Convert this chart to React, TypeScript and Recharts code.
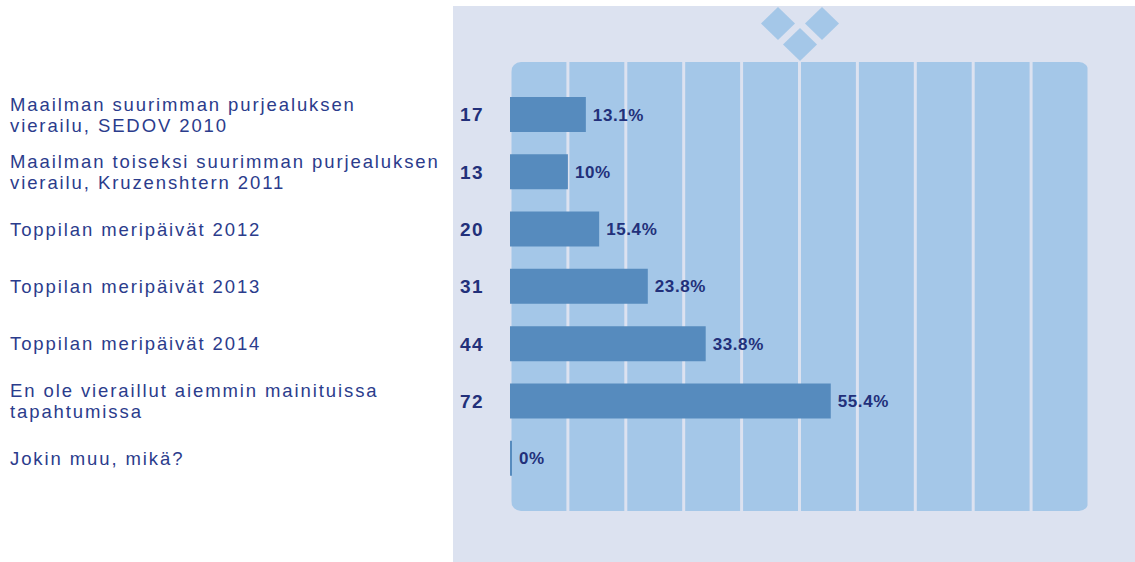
import React from 'react';
import { BarChart, Bar, XAxis, YAxis, CartesianGrid, LabelList } from 'recharts';

const categories: string[] = [
  'Maailman suurimman purjealuksen\nvierailu, SEDOV 2010',
  'Maailman toiseksi suurimman purjealuksen\nvierailu, Kruzenshtern 2011',
  'Toppilan meripäivät 2012',
  'Toppilan meripäivät 2013',
  'Toppilan meripäivät 2014',
  'En ole vieraillut aiemmin mainituissa\ntapahtumissa',
  'Jokin muu, mikä?',
];
const counts: number[] = [17, 13, 20, 31, 44, 72, 0];
const percents: number[] = [13.1, 10, 15.4, 23.8, 33.8, 55.4, 0];
const xTicks: number[] = [0, 10, 20, 30, 40, 50, 60, 70, 80, 90, 100];

const data = categories.map((name, i) => ({ name, count: counts[i], pct: percents[i] }));

const W = 1135;
const H = 562;
const PLOT = { left: 510, top: 62, right: 1089, bottom: 511 };
const PANEL_BG = '#dce2f0';
const COL_BG = '#a4c7e8';
const BAR = '#568bbe';
const TEXT = '#2b3c8c';
const NAVY = '#22307a';
const FONT = '"Liberation Sans", Arial, sans-serif';

const countByName: Record<string, number> = {};
data.forEach((d) => (countByName[d.name] = d.count));

const CategoryTick = (props: any) => {
  const { y, payload } = props;
  const lines: string[] = String(payload.value).split('\n');
  const lh = 21;
  const startY = y - ((lines.length - 1) * lh) / 2;
  return (
    <g>
      <text x={10} y={startY} fill={TEXT} fontSize={18.5} letterSpacing={1.9} fontFamily={FONT}>
        {lines.map((l, i) => (
          <tspan key={i} x={10} y={startY + i * lh} dy="0.36em">
            {l}
          </tspan>
        ))}
      </text>
      {countByName[payload.value] > 0 && (
        <text
          x={460}
          y={y}
          dy="0.36em"
          fill={NAVY}
          fontSize={19}
          letterSpacing={1.5}
          fontWeight="bold"
          fontFamily={FONT}
        >
          {countByName[payload.value]}
        </text>
      )}
    </g>
  );
};

const PctLabel = (props: any) => {
  const { x, y, width, height, value } = props;
  return (
    <text
      x={x + width + 7}
      y={y + height / 2}
      dy="0.36em"
      fill={NAVY}
      fontSize={17}
      letterSpacing={0.6}
      fontWeight="bold"
      fontFamily={FONT}
    >
      {`${value}%`}
    </text>
  );
};

export default function App() {
  return (
    <div style={{ position: 'absolute', left: 0, top: 0, width: W, height: H, background: '#ffffff' }}>
      <svg width={W} height={H} style={{ position: 'absolute', left: 0, top: 0 }}>
        <rect x={453} y={6} width={W - 453} height={H - 6} fill={PANEL_BG} />
        <polygon points="778,7 795,23.5 778,40 761,23.5" fill={COL_BG} />
        <polygon points="822,7 839,23.5 822,40 805,23.5" fill={COL_BG} />
        <polygon points="800,28 817,44.5 800,61 783,44.5" fill={COL_BG} />
        <rect
          x={PLOT.left + 1}
          y={PLOT.top}
          width={PLOT.right - PLOT.left - 1}
          height={PLOT.bottom - PLOT.top}
          rx={10}
          ry={10}
          fill={COL_BG}
        />
      </svg>
      <div style={{ position: 'absolute', left: 0, top: 0 }}>
        <BarChart
          width={W}
          height={H}
          data={data}
          layout="vertical"
          margin={{ top: PLOT.top, right: W - PLOT.right, bottom: H - PLOT.bottom, left: 0 }}
          barSize={35}
        >
          <CartesianGrid horizontal={false} vertical stroke={PANEL_BG} strokeWidth={3} />
          <XAxis type="number" domain={[0, 100]} ticks={xTicks} hide />
          <YAxis
            type="category"
            dataKey="name"
            width={PLOT.left}
            axisLine={false}
            tickLine={false}
            tick={<CategoryTick />}
            padding={{ top: 24, bottom: 24 }}
            interval={0}
          />
          <Bar dataKey="pct" fill={BAR} minPointSize={2} isAnimationActive={false}>
            <LabelList dataKey="pct" content={<PctLabel />} />
          </Bar>
        </BarChart>
      </div>
    </div>
  );
}
